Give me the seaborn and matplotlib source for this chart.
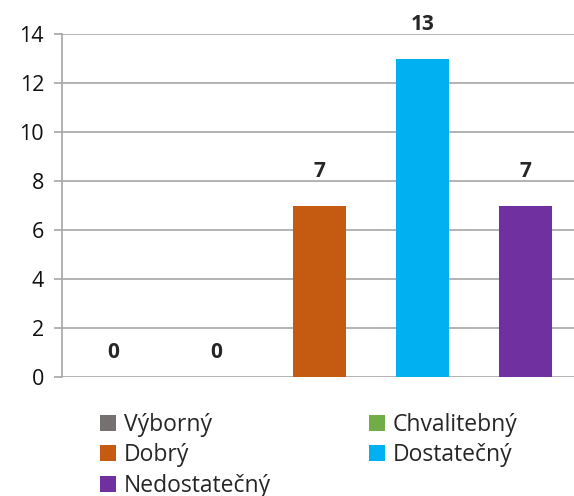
import matplotlib
matplotlib.use("Agg")
from matplotlib import pyplot as plt
from matplotlib.patches import Patch
import seaborn as sns
import pandas as pd

grades = ["Výborný", "Chvalitebný", "Dobrý", "Dostatečný", "Nedostatečný"]
counts = [0, 0, 7, 13, 7]
colors = ["#767171", "#70AD47", "#C55A11", "#00B0F0", "#7030A0"]

sns.set_theme(style="white")
plt.rcParams["font.family"] = ["Open Sans", "DejaVu Sans"]

df = pd.DataFrame({"grade": grades, "count": counts})

fig = plt.figure(figsize=(5.74, 4.96), dpi=100)
ax = fig.add_axes([62 / 574, 119 / 496, 515 / 574, 343 / 496])

sns.barplot(data=df, x="grade", y="count", hue="grade", palette=colors,
            width=0.505, legend=False, ax=ax, saturation=1, linewidth=0)

ax.set_ylim(0, 14)
ax.set_xlim(-0.5, 4.5)
ax.set_yticks(range(0, 15, 2))
ax.yaxis.grid(True, color="#A6A6A6", linewidth=1.2)
ax.set_axisbelow(True)
ax.set_xticks([])
ax.set_xlabel("")
ax.set_ylabel("")
for s in ["top", "right", "bottom"]:
    ax.spines[s].set_visible(False)
ax.spines["left"].set_color("#A6A6A6")
ax.spines["left"].set_linewidth(1.2)
ax.tick_params(axis="y", length=6, color="#A6A6A6", width=1.2,
               labelsize=15.5, pad=7, left=True, labelcolor="#111111")

for i, v in enumerate(counts):
    off = 25 if v == 0 else 34
    ax.annotate(str(v), (i, v), xytext=(0, off * 0.72), textcoords="offset points",
                ha="center", va="center", fontsize=15, fontweight="bold")

# row-wise order for a two-column legend
order = [0, 2, 4, 1, 3]
handles = [Patch(facecolor=colors[i], edgecolor="none") for i in order]
labels = [grades[i] for i in order]
fig.legend(handles, labels, loc="upper left", bbox_to_anchor=(91 / 574, 1 - 404 / 496),
           ncol=2, frameon=False, fontsize=16.5, handlelength=0.7, handleheight=0.7,
           handletextpad=0.35, columnspacing=4.25, labelspacing=0.27, borderaxespad=0)

fig.savefig("out.png", dpi=100)
